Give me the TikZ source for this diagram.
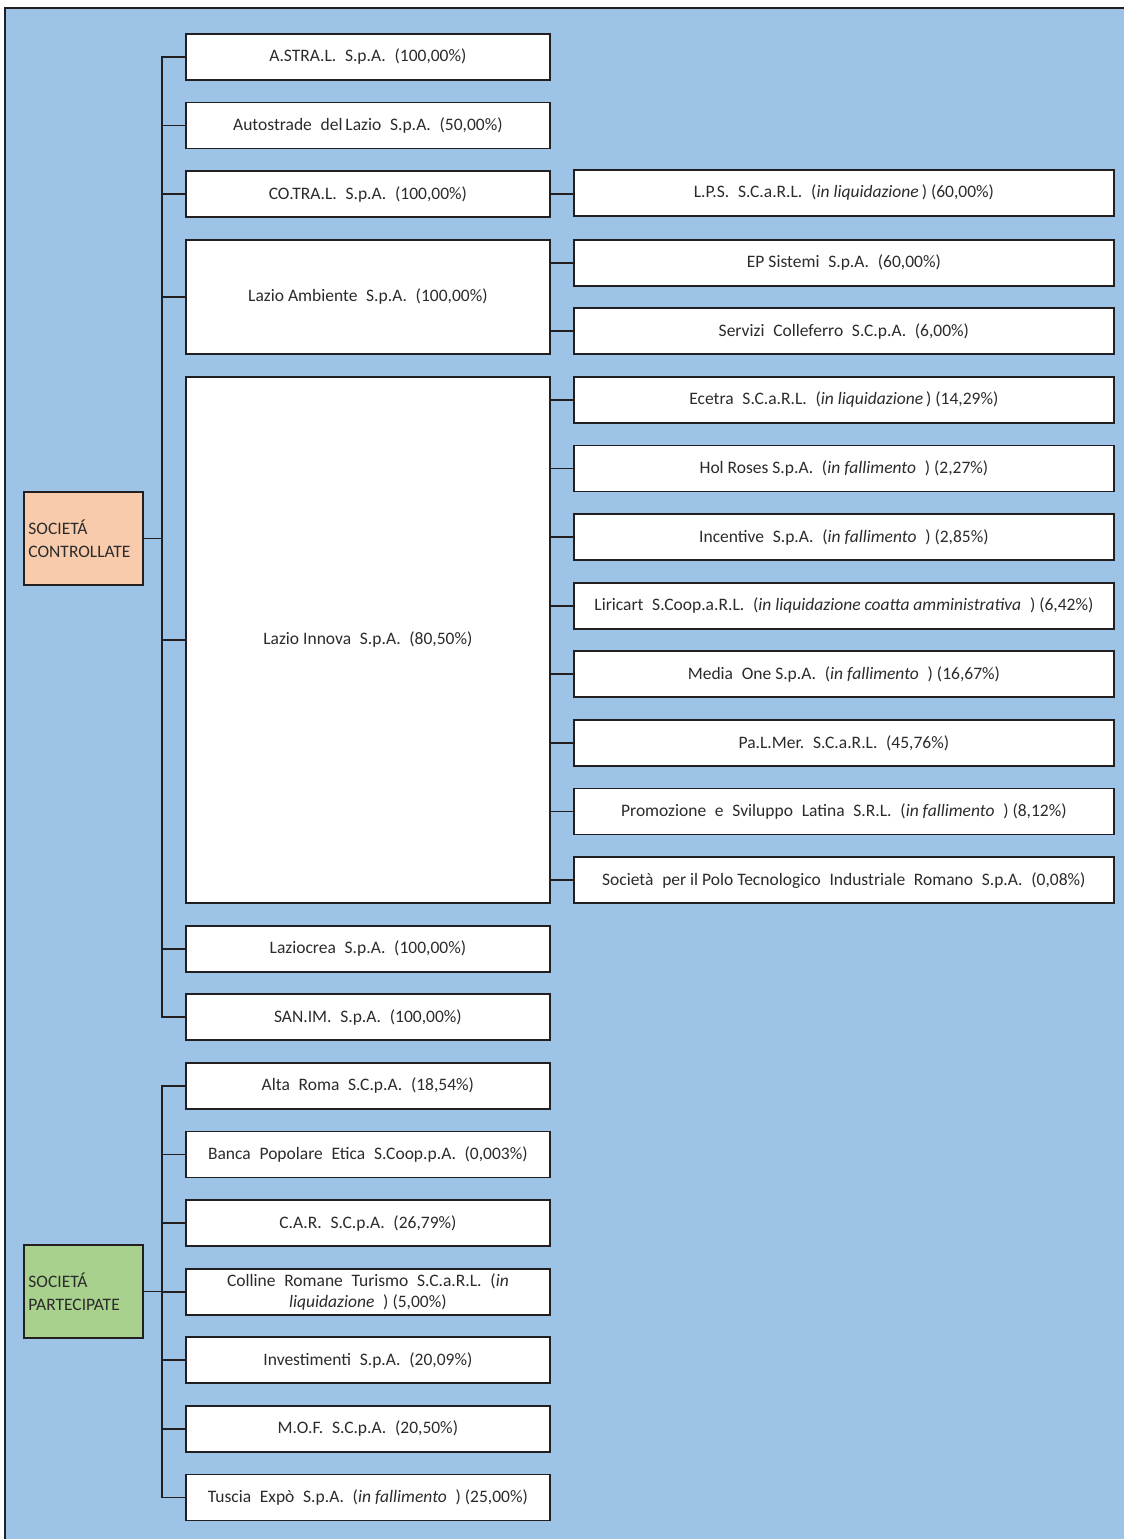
\documentclass[tikz,border=0pt]{standalone}
\usepackage{fontspec}
\setmainfont{Carlito}
\newcommand\xg{\hspace{0.5em}}
\definecolor{bgblue}{HTML}{9DC3E6}
\definecolor{linec}{HTML}{231F20}
\definecolor{txtc}{HTML}{2B2B2B}
\definecolor{peach}{HTML}{F8CBAD}
\definecolor{green1}{HTML}{A9D18E}
\tikzset{
  base/.style={draw=linec, line width=1.8pt, fill=white, anchor=north west,
    inner sep=0pt, text=txtc, font=\fontsize{17.5}{20}\selectfont, align=center},
  lbox/.style={base, minimum width=364pt},
  rbox/.style={base, minimum width=540pt, minimum height=46pt},
  cat/.style={draw=linec, line width=1.8pt, anchor=north west, inner sep=4pt,
    minimum width=119pt, minimum height=93pt, text width=110pt, align=left,
    text=txtc, font=\fontsize{17.5}{23}\selectfont},
  conn/.style={draw=linec, line width=1.8pt}
}
\begin{document}
\begin{tikzpicture}[x=1pt,y=-1pt]
\useasboundingbox (0,0) rectangle (1124,1539);
\fill[bgblue] (5,8) rectangle (1124,1539);
\draw[conn] (5,1539) -- (5,8) -- (1124,8);

% category boxes
\node[cat, fill=peach] (ctrl) at (23,491) {SOCIETÁ\\CONTROLLATE};
\node[cat, fill=green1] (part) at (23,1244) {SOCIETÁ\\PARTECIPATE};

% left column
\node[lbox, minimum height=46pt] (astral) at (185,33) {A.STRA.L.\xg S.p.A.\xg (100,00\%)};
\node[lbox, minimum height=46pt] (autos) at (185,101.6) {Autostrade\xg del\,Lazio\xg S.p.A.\xg (50,00\%)};
\node[lbox, minimum height=46pt] (cotral) at (185,170.2) {CO.TRA.L.\xg S.p.A.\xg (100,00\%)};
\node[lbox, minimum height=114.6pt] (lamb) at (185,238.8) {Lazio Ambiente\xg S.p.A.\xg (100,00\%)};
\node[lbox, minimum height=526.2pt] (linn) at (185,376) {Lazio Innova\xg S.p.A.\xg (80,50\%)};
\node[lbox, minimum height=46pt] (lcrea) at (185,924.8) {Laziocrea\xg S.p.A.\xg (100,00\%)};
\node[lbox, minimum height=46pt] (sanim) at (185,993.4) {SAN.IM.\xg S.p.A.\xg (100,00\%)};

\node[lbox, minimum height=46pt] (alta) at (185,1062) {Alta\xg Roma\xg S.C.p.A.\xg (18,54\%)};
\node[lbox, minimum height=46pt] (banca) at (185,1130.6) {Banca\xg Popolare\xg Etica\xg S.Coop.p.A.\xg (0,003\%)};
\node[lbox, minimum height=46pt] (car) at (185,1199.2) {C.A.R.\xg S.C.p.A.\xg (26,79\%)};
\node[lbox, minimum height=46pt, font=\fontsize{17.5}{21}\selectfont] (coll) at (185,1267.8) {Colline\xg Romane\xg Turismo\xg S.C.a.R.L.\xg (\textit{in}\\\textit{liquidazione}\xg) (5,00\%)};
\node[lbox, minimum height=46pt] (inv) at (185,1336.4) {Investimenti\xg S.p.A.\xg (20,09\%)};
\node[lbox, minimum height=46pt] (mof) at (185,1405) {M.O.F.\xg S.C.p.A.\xg (20,50\%)};
\node[lbox, minimum height=46pt] (tusc) at (185,1473.6) {Tuscia\xg Expò\xg S.p.A.\xg (\textit{in fallimento}\xg) (25,00\%)};

% right column
\node[rbox] (lps) at (573,169) {L.P.S.\xg S.C.a.R.L.\xg (\textit{in liquidazione}\,) (60,00\%)};
\node[rbox] (ep) at (573,238.8) {EP Sistemi\xg S.p.A.\xg (60,00\%)};
\node[rbox] (serv) at (573,307.4) {Servizi\xg Colleferro\xg S.C.p.A.\xg (6,00\%)};
\node[rbox] (ecet) at (573,376) {Ecetra\xg S.C.a.R.L.\xg (\textit{in liquidazione}\,) (14,29\%)};
\node[rbox] (hol) at (573,444.6) {Hol Roses S.p.A.\xg (\textit{in fallimento}\xg) (2,27\%)};
\node[rbox] (ince) at (573,513.2) {Incentive\xg S.p.A.\xg (\textit{in fallimento}\xg) (2,85\%)};
\node[rbox] (liri) at (573,581.8) {Liricart\xg S.Coop.a.R.L.\xg (\textit{in liquidazione coatta amministrativa}\xg) (6,42\%)};
\node[rbox] (media) at (573,650.4) {Media\xg One S.p.A.\xg (\textit{in fallimento}\xg) (16,67\%)};
\node[rbox] (palm) at (573,719) {Pa.L.Mer.\xg S.C.a.R.L.\xg (45,76\%)};
\node[rbox] (prom) at (573,787.6) {Promozione\xg e\xg Sviluppo\xg Latina\xg S.R.L.\xg (\textit{in fallimento}\xg) (8,12\%)};
\node[rbox] (polo) at (573,856.2) {Società\xg per il Polo Tecnologico\xg Industriale\xg Romano\xg S.p.A.\xg (0,08\%)};

% trunks
\coordinate (tk) at (162,0);
\draw[conn] (astral.west) -- (astral.west -| tk) -- (sanim.west -| tk) -- (sanim.west);
\foreach \n in {autos,cotral,lamb,linn,lcrea}{
  \draw[conn] (\n.west) -- (\n.west -| tk);
}
\draw[conn] (ctrl.east) -- (ctrl.east -| tk);

\draw[conn] (alta.west) -- (alta.west -| tk) -- (tusc.west -| tk) -- (tusc.west);
\foreach \n in {banca,car,coll,inv,mof}{
  \draw[conn] (\n.west) -- (\n.west -| tk);
}
\draw[conn] (part.east) -- (part.east -| tk);

% second level
\draw[conn] (cotral.east) -- (lps.west |- cotral.east);
\foreach \n in {ep,serv}{
  \draw[conn] (\n.west) -- (\n.west -| lamb.east);
}
\foreach \n in {ecet,hol,ince,liri,media,palm,prom,polo}{
  \draw[conn] (\n.west) -- (\n.west -| linn.east);
}
\end{tikzpicture}
\end{document}
